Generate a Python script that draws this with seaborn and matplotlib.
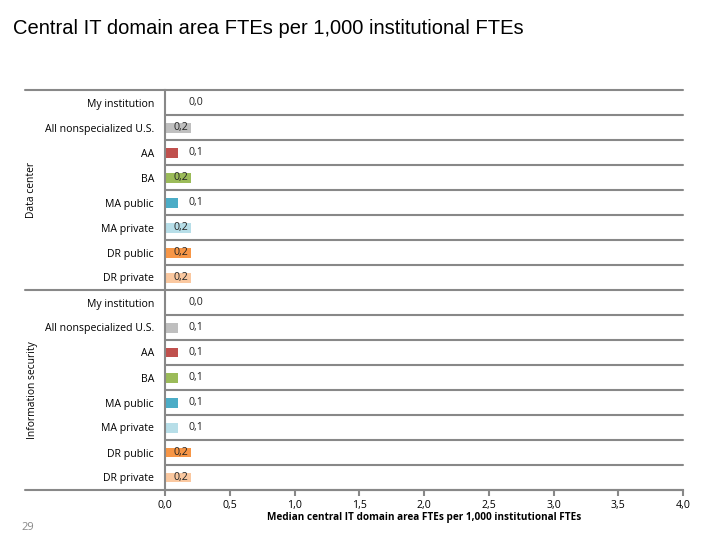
import matplotlib
matplotlib.use("Agg")
import matplotlib.pyplot as plt
import matplotlib.transforms as mtransforms
import seaborn as sns
import pandas as pd

sns.set_theme(style="white")
plt.rcParams['font.family'] = ['Open Sans', 'DejaVu Sans']
plt.rcParams['text.color'] = '#000000'

title = "Central IT domain area FTEs per 1,000 institutional FTEs"
xlabel = "Median central IT domain area FTEs per 1,000 institutional FTEs"
groups = ["Data center", "Information security"]
segments = ["My institution", "All nonspecialized U.S.", "AA", "BA",
            "MA public", "MA private", "DR public", "DR private"]
data_center = [0.0, 0.2, 0.1, 0.2, 0.1, 0.2, 0.2, 0.2]
info_security = [0.0, 0.1, 0.1, 0.1, 0.1, 0.1, 0.2, 0.2]
seg_colors = ["#FFFFFF", "#BFBFBF", "#C0504D", "#9BBB59",
              "#4BACC6", "#B7DEE8", "#F79646", "#FAC8A0"]
xticks = [0.0, 0.5, 1.0, 1.5, 2.0, 2.5, 3.0, 3.5, 4.0]

values = data_center + info_security
labels = segments + segments
colors = seg_colors + seg_colors
rows = [f"r{i}" for i in range(len(values))]
df = pd.DataFrame({"row": rows, "value": values, "label": labels})

fig = plt.figure(figsize=(7.2, 5.4), dpi=100)
ax = fig.add_axes([165/720, 1 - 490/540, (683 - 165)/720, 400/540])

sns.barplot(data=df, x="value", y="row", hue="row", palette=colors,
            legend=False, width=0.4, ax=ax, saturation=1, linewidth=0)

ax.set_xlim(0, 4.0)
ax.set_ylim(len(values) - 0.5, -0.5)
ax.set_yticks(range(len(values)))
ax.set_yticklabels(labels, fontsize=7.6, color="#000000")
ax.tick_params(axis="y", length=0, pad=8)
ax.set_xticks(xticks)
ax.set_xticklabels([f"{t:.1f}".replace(".", ",") for t in xticks],
                   fontsize=7.6, color="#000000")
ax.tick_params(axis="x", length=4, width=1.5, color="#888888",
               direction="out", pad=3, bottom=True)
ax.set_ylabel("")
ax.set_xlabel(xlabel, fontsize=7.2, fontweight="bold", labelpad=1,
              color="#000000")

for s in ["top", "right"]:
    ax.spines[s].set_visible(False)
for s in ["left", "bottom"]:
    ax.spines[s].set_color("#888888")
    ax.spines[s].set_linewidth(1.5)

# category separators
for i in range(len(values) + 1):
    ax.axhline(i - 0.5, color="#888888", lw=1.5, zorder=0, clip_on=False)
trans = mtransforms.blended_transform_factory(ax.transAxes, ax.transData)
for b in [-0.5, len(segments) - 0.5, len(values) - 0.5]:
    ax.plot([-140/518, 0], [b, b], color="#888888", lw=1.5,
            transform=trans, clip_on=False)

# value labels
for i, v in enumerate(values):
    xpos = v / 2 + 0.02 if v >= 0.15 else 0.24
    ax.text(xpos, i, f"{v:.1f}".replace(".", ","), ha="center", va="center",
            fontsize=7.6, color="#222222")

# group labels
for gi, g in enumerate(groups):
    center = gi * len(segments) + (len(segments) - 1) / 2
    ax.text(-133/518, center, g, rotation=90, ha="center", va="center",
            fontsize=7.4, transform=trans)

fig.text(13/720, 1 - 28/540, title, fontsize=14.5, family="Liberation Sans",
         ha="left", va="center", color="#000000")
fig.text(28/720, 1 - 528/540, "29", fontsize=8, color="#888888",
         ha="center", va="center")

fig.savefig("out.png", dpi=100)
